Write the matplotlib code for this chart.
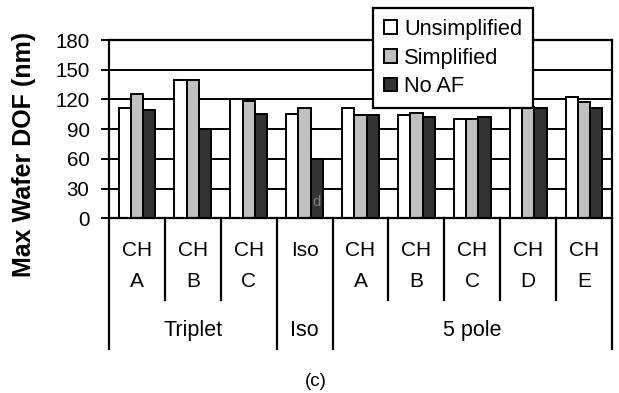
import numpy as np
import matplotlib
matplotlib.use('Agg')
import matplotlib.pyplot as plt
import matplotlib.transforms as mtransforms
from matplotlib.patches import Patch

plt.rcParams['font.family'] = ['Liberation Sans', 'DejaVu Sans']

# data
sub_labels = ['CH\nA', 'CH\nB', 'CH\nC', 'Iso', 'CH\nA', 'CH\nB', 'CH\nC', 'CH\nD', 'CH\nE']
group_names = ['Triplet', 'Iso', '5 pole']
group_sizes = [3, 1, 5]
unsimplified = [111, 140, 120, 105, 111, 104, 100, 112, 122]
simplified = [125, 140, 118, 111, 104, 106, 100, 112, 117]
no_af = [109, 90, 105, 60, 104, 102, 102, 111, 111]
series_names = ['Unsimplified', 'Simplified', 'No AF']
colors = ['white', '#c0c0c0', '#333333']

fig = plt.figure(figsize=(6.19, 3.93), dpi=100, facecolor='white')
ax = fig.add_axes([109/619, 1 - 218.3/393, 503/619, 178.3/393])

x = np.arange(len(sub_labels))
w = 0.22
for k, vals in enumerate([unsimplified, simplified, no_af]):
    ax.bar(x + (k - 1)*w, vals, w, color=colors[k], edgecolor='black',
           linewidth=1.4, zorder=2)

ax.set_ylim(0, 180)
ax.set_yticks(np.arange(0, 181, 30))
ax.set_xlim(-0.5, len(sub_labels) - 0.5)
ax.set_xticks([])
ax.yaxis.grid(True, color='black', linewidth=1.4)
ax.set_axisbelow(True)
for s in ax.spines.values():
    s.set_linewidth(1.6)
ax.tick_params(axis='y', labelsize=14.8, length=6, width=1.4, pad=8)

# odd little label on the Iso No AF bar
ax.text(3 + w, 16, 'd', ha='center', va='center', fontsize=10.5, color='#808080', zorder=3)

# multi level category axis
trans = mtransforms.blended_transform_factory(ax.transData, ax.transAxes)
for i, lab in enumerate(sub_labels):
    top, bot = lab.split('\n') if '\n' in lab else (lab, '')
    ax.text(i, -0.178, top, transform=trans, ha='center', va='center', fontsize=15)
    if bot:
        ax.text(i, -0.357, bot, transform=trans, ha='center', va='center', fontsize=15)

bounds = np.cumsum([0] + group_sizes) - 0.5
for b in np.arange(-0.5, len(sub_labels)):
    long = b in bounds
    ax.plot([b, b], [0, -0.733 if long else -0.458], transform=trans,
            color='black', linewidth=1.6, clip_on=False)
for g, name in enumerate(group_names):
    c = (bounds[g] + bounds[g + 1]) / 2
    ax.text(c, -0.631, name, transform=trans, ha='center', va='center', fontsize=15.5)

fig.text(24/619, 1 - 154.5/393, 'Max Wafer DOF (nm)', rotation=90, ha='center',
         va='center', fontsize=18, fontweight='bold')
fig.text(316/619, 1 - 382/393, '(c)', ha='center', va='center', fontsize=13.5)

handles = [Patch(facecolor=c, edgecolor='black', linewidth=1.4) for c in colors]
leg = fig.legend(handles, series_names, loc='upper left',
                 bbox_to_anchor=(372.7/619, 1 - 8/393), borderaxespad=0,
                 fontsize=15.7, fancybox=False, framealpha=1, edgecolor='black',
                 handlelength=0.6, handleheight=0.6, handletextpad=0.35,
                 labelspacing=0.35, borderpad=0.5)
leg.get_frame().set_linewidth(1.6)

plt.savefig('out.png', dpi=100)
